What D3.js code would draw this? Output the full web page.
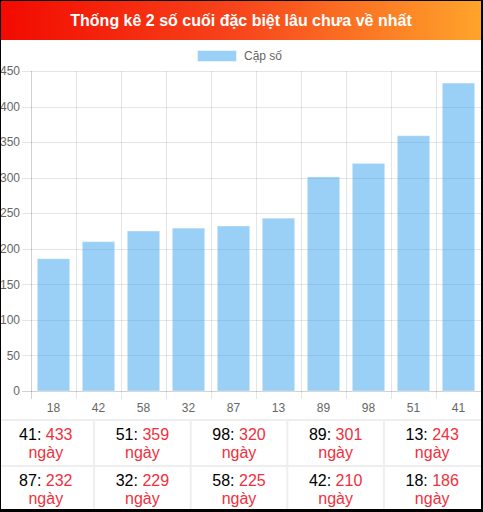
<!DOCTYPE html>
<html>
<head>
<meta charset="utf-8">
<script src="https://cdn.jsdelivr.net/npm/d3@7"></script>
<style>
  html, body { margin: 0; padding: 0; background: #fff; }
  svg { display: block; font-family: "Liberation Sans", Arial, sans-serif; }
</style>
</head>
<body>
<div id="chart"></div>
<script>
var title = "Thống kê 2 số cuối đặc biệt lâu chưa về nhất";
var seriesName = "Cặp số";
var categories = ["18", "42", "58", "32", "87", "13", "89", "98", "51", "41"];
var values = [186, 210, 225, 229, 232, 243, 301, 320, 359, 433];
var yTicks = [0, 50, 100, 150, 200, 250, 300, 350, 400, 450];
var dayWord = "ngày";

!function () {
    var W = 483, H = 512;
    var svg = d3.select('#chart')
        .append('svg')
        .attr('width', W)
        .attr('height', H);

    // header gradient
    var grad = svg.append('defs').append('linearGradient')
        .attr('id', 'hdr')
        .attr('x1', '0%').attr('x2', '100%');
    grad.append('stop').attr('offset', '0%').attr('stop-color', '#f20a00');
    grad.append('stop').attr('offset', '50%').attr('stop-color', '#f7461c');
    grad.append('stop').attr('offset', '100%').attr('stop-color', '#ffa52b');

    svg.append('rect')
        .attr('x', 0).attr('y', 0)
        .attr('width', W).attr('height', 40)
        .attr('fill', 'url(#hdr)');

    svg.append('text')
        .attr('x', 241).attr('y', 20)
        .attr('dy', '0.35em')
        .attr('text-anchor', 'middle')
        .attr('fill', '#fff')
        .style('font-size', '16px')
        .style('font-weight', 'bold')
        .text(title);

    // legend
    svg.append('rect')
        .attr('x', 197.5).attr('y', 50.5)
        .attr('width', 39).attr('height', 11)
        .attr('fill', 'rgba(54,162,235,0.5)')
        .attr('stroke', 'rgba(255,255,255,0.5)');
    svg.append('text')
        .attr('x', 244).attr('y', 56)
        .attr('dy', '0.35em')
        .attr('fill', '#666')
        .style('font-size', '12px')
        .text(seriesName);

    // scales
    var x = d3.scaleBand()
        .domain(categories)
        .range([31, 481]);

    var y = d3.scaleLinear()
        .domain([0, 450])
        .range([391, 71]);

    var grid = svg.append('g');

    // horizontal grid + y ticks
    grid.selectAll('line.h')
        .data(yTicks)
        .enter()
        .append('line')
        .attr('x1', 22).attr('x2', 481)
        .attr('y1', function (d) { return Math.round(y(d)) + 0.5; })
        .attr('y2', function (d) { return Math.round(y(d)) + 0.5; })
        .attr('stroke', function (d) { return d === 0 ? 'rgba(0,0,0,0.18)' : 'rgba(0,0,0,0.1)'; });

    // vertical grid + x ticks
    var vlines = categories.map(function (c) { return x(c); }).concat([481]);
    grid.selectAll('line.v')
        .data(vlines)
        .enter()
        .append('line')
        .attr('x1', function (d) { return Math.round(d) + 0.5; })
        .attr('x2', function (d) { return Math.round(d) + 0.5; })
        .attr('y1', 71).attr('y2', 399)
        .attr('stroke', function (d, i) { return i === 0 ? 'rgba(0,0,0,0.18)' : 'rgba(0,0,0,0.1)'; });

    // y labels
    svg.append('g').selectAll('text')
        .data(yTicks)
        .enter()
        .append('text')
        .attr('x', 20)
        .attr('y', function (d) { return y(d); })
        .attr('dy', '0.35em')
        .attr('text-anchor', 'end')
        .attr('fill', '#666')
        .style('font-size', '12px')
        .text(function (d) { return d; });

    // x labels
    svg.append('g').selectAll('text')
        .data(categories)
        .enter()
        .append('text')
        .attr('x', function (d) { return x(d) + x.bandwidth() / 2; })
        .attr('y', 408)
        .attr('dy', '0.35em')
        .attr('text-anchor', 'middle')
        .attr('fill', '#666')
        .style('font-size', '12px')
        .text(function (d) { return d; });

    // bars
    var bw = x.bandwidth() * 0.72;
    svg.append('g').selectAll('rect')
        .data(values)
        .enter()
        .append('rect')
        .attr('x', function (d, i) { return x(categories[i]) + (x.bandwidth() - bw) / 2; })
        .attr('y', function (d) { return y(d); })
        .attr('width', bw)
        .attr('height', function (d) { return y(0) - y(d); })
        .attr('fill', 'rgba(54,162,235,0.5)')
        .attr('stroke', 'rgba(255,255,255,0.35)')
        .attr('stroke-width', 1);

    // table below, sorted by value desc
    var rows = categories.map(function (c, i) { return { k: c, v: values[i] }; })
        .sort(function (a, b) { return b.v - a.v; });

    var colX = d3.scaleLinear().domain([0, 5]).range([-2.5, 480.5]);
    var rowY = [421, 467];
    var rowH = [44, 42];

    var tbl = svg.append('g');
    // borders
    tbl.append('rect')
        .attr('x', 0).attr('y', 419)
        .attr('width', W).attr('height', 2)
        .attr('fill', '#eee');
    tbl.append('rect')
        .attr('x', 0).attr('y', 465)
        .attr('width', W).attr('height', 2)
        .attr('fill', '#eee');
    tbl.selectAll('rect.c')
        .data([1, 2, 3, 4])
        .enter()
        .append('rect')
        .attr('x', function (d) { return colX(d) - 1; })
        .attr('y', 419)
        .attr('width', 2)
        .attr('height', 512 - 419)
        .attr('fill', '#eee');

    var cells = tbl.selectAll('g.cell')
        .data(rows)
        .enter()
        .append('g')
        .attr('transform', function (d, i) {
            var c = i % 5, r = Math.floor(i / 5);
            return 'translate(' + ((colX(c) + colX(c + 1)) / 2) + ',' + rowY[r] + ')';
        });

    var t1 = cells.append('text')
        .attr('y', 13)
        .attr('dy', '0.35em')
        .attr('text-anchor', 'middle')
        .style('font-size', '16px');
    t1.append('tspan').attr('fill', '#000').text(function (d) { return d.k + ': '; });
    t1.append('tspan').attr('fill', '#f0303c').text(function (d) { return d.v; });

    cells.append('text')
        .attr('y', 31)
        .attr('dy', '0.35em')
        .attr('text-anchor', 'middle')
        .attr('fill', '#f0303c')
        .style('font-size', '16px')
        .text(dayWord);

    // outer frame
    svg.append('rect').attr('x', 0).attr('y', 0).attr('width', 1).attr('height', H).attr('fill', '#000');
    svg.append('rect').attr('x', 0).attr('y', 0).attr('width', W).attr('height', 1).attr('fill', '#000');
    svg.append('rect').attr('x', 481).attr('y', 0).attr('width', 2).attr('height', H).attr('fill', '#000');
    svg.append('rect').attr('x', 0).attr('y', 509).attr('width', W).attr('height', 3).attr('fill', '#000');
}();
</script>
</body>
</html>
